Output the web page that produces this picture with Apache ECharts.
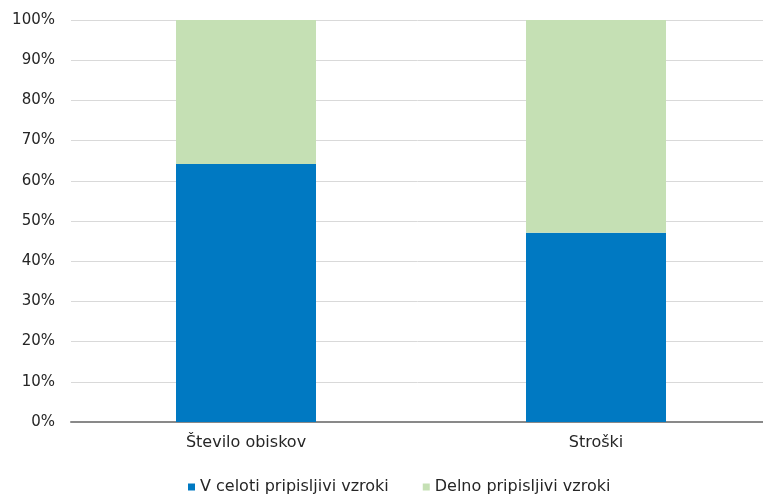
<!DOCTYPE html>
<html>
<head>
<meta charset="utf-8">
<script src="https://cdn.jsdelivr.net/npm/echarts@6/dist/echarts.min.js"></script>
<style>
html,body{margin:0;padding:0;background:#fff;}
#c{width:763px;height:495px;}
</style>
</head>
<body>
<div id="c"></div>
<script>
const categories = ['Število obiskov', 'Stroški'];
const seriesNames = ['V celoti pripisljivi vzroki', 'Delno pripisljivi vzroki'];
const fullyAttributable = [64.2, 47.1];
const partiallyAttributable = [35.8, 52.9];
const colors = ['#0079C2', '#C5E0B4'];

const font = 'DejaVu Sans, Verdana, sans-serif';
const chart = echarts.init(document.getElementById('c'), null, {renderer: 'canvas'});
chart.setOption({
  animation: false,
  color: colors,
  textStyle: {fontFamily: font},
  grid: {left: 71, width: 700, top: 20, bottom: 73, containLabel: false, outerBoundsMode: 'none'},
  legend: {
    left: 183,
    top: 474,
    itemWidth: 7,
    itemHeight: 7,
    itemGap: 34,
    icon: 'rect',
    textStyle: {fontFamily: font, fontSize: 16, color: '#262626'},
    data: seriesNames
  },
  xAxis: {
    type: 'category',
    data: categories,
    axisLine: {show: true, lineStyle: {color: '#898989', width: 2}},
    axisTick: {show: false},
    axisLabel: {fontFamily: font, fontSize: 16, color: '#262626', margin: 13}
  },
  yAxis: {
    type: 'value',
    min: 0,
    max: 100,
    interval: 10,
    axisLine: {show: false},
    axisTick: {show: false},
    splitLine: {lineStyle: {color: '#D9D9D9', width: 1}},
    axisLabel: {fontFamily: font, fontSize: 15, color: '#262626', margin: 16, formatter: '{value}%'}
  },
  series: [
    {name: seriesNames[0], type: 'bar', stack: 's', barWidth: '40%', data: fullyAttributable},
    {name: seriesNames[1], type: 'bar', stack: 's', barWidth: '40%', data: partiallyAttributable}
  ]
});
</script>
</body>
</html>
